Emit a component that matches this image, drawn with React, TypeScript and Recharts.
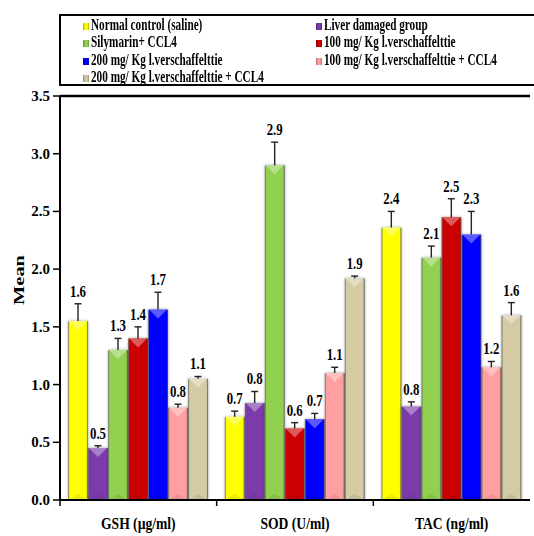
import { BarChart, Bar, XAxis, YAxis, ReferenceLine } from 'recharts';

const categories = ['GSH (µg/ml)', 'SOD (U/ml)', 'TAC (ng/ml)'];

const seriesNames = [
  'Normal control (saline)',
  'Liver damaged group',
  'Silymarin+ CCL4',
  '100 mg/ Kg l.verschaffelttie',
  '200 mg/ Kg l.verschaffelttie',
  '100 mg/ Kg l.verschaffelttie + CCL4',
  '200 mg/ Kg l.verschaffelttie + CCL4',
];

const seriesColors = ['#FFFF00', '#7B3AAA', '#92D050', '#CC0000', '#0000FF', '#FF9F9F', '#D4CBA5'];

// means
const normalControl = [1.55, 0.72, 2.36];
const liverDamaged = [0.45, 0.84, 0.81];
const silymarin = [1.3, 2.9, 2.1];
const lv100 = [1.4, 0.62, 2.45];
const lv200 = [1.65, 0.7, 2.3];
const lv100Ccl4 = [0.8, 1.1, 1.15];
const lv200Ccl4 = [1.05, 1.92, 1.6];

// upper end of the error bars
const normalControlErr = [1.7, 0.77, 2.5];
const liverDamagedErr = [0.47, 0.94, 0.85];
const silymarinErr = [1.4, 3.1, 2.2];
const lv100Err = [1.5, 0.67, 2.61];
const lv200Err = [1.8, 0.75, 2.5];
const lv100Ccl4Err = [0.83, 1.15, 1.2];
const lv200Ccl4Err = [1.07, 1.94, 1.71];

// printed value labels
const normalControlLbl = ['1.6', '0.7', '2.4'];
const liverDamagedLbl = ['0.5', '0.8', '0.8'];
const silymarinLbl = ['1.3', '2.9', '2.1'];
const lv100Lbl = ['1.4', '0.6', '2.5'];
const lv200Lbl = ['1.7', '0.7', '2.3'];
const lv100Ccl4Lbl = ['0.8', '1.1', '1.2'];
const lv200Ccl4Lbl = ['1.1', '1.9', '1.6'];

const yTicks = [0, 0.5, 1, 1.5, 2, 2.5, 3, 3.5];

const values = [normalControl, liverDamaged, silymarin, lv100, lv200, lv100Ccl4, lv200Ccl4];
const errors = [normalControlErr, liverDamagedErr, silymarinErr, lv100Err, lv200Err, lv100Ccl4Err, lv200Ccl4Err];
const labels = [normalControlLbl, liverDamagedLbl, silymarinLbl, lv100Lbl, lv200Lbl, lv100Ccl4Lbl, lv200Ccl4Lbl];

const data = categories.map((name, i) => {
  const row: any = { name };
  values.forEach((arr, s) => {
    row['s' + s] = arr[i];
  });
  return row;
});

const FONT = "'Liberation Serif', 'Times New Roman', serif";

const BevelBar = (props: any) => {
  const { x, y, width, height, index, s } = props;
  if (!height || height <= 0) return null;
  const base = y + height;
  const perUnit = height / values[s][index];
  const errTop = base - errors[s][index] * perUnit;
  const cx = x + width / 2;
  const tri = Math.min(width * 0.45, height / 2);
  return (
    <g>
      <g filter="url(#barShadow)">
        <rect x={x} y={y} width={width} height={height} fill={`url(#grad${s})`} />
      </g>
      <polygon
        points={`${x + 1},${y} ${x + width - 1},${y} ${cx},${y + tri}`}
        fill="#fff"
        fillOpacity={0.35}
      />
      <polygon
        points={`${x + 1},${base} ${x + width - 1},${base} ${cx},${base - tri * 0.7}`}
        fill="#000"
        fillOpacity={0.08}
      />
      <line x1={cx} y1={y} x2={cx} y2={errTop} stroke="#222" strokeWidth={1.4} />
      <line x1={cx - 3.5} y1={errTop} x2={cx + 3.5} y2={errTop} stroke="#222" strokeWidth={1.4} />
      <text
        x={cx}
        y={errTop - 7}
        textAnchor="middle"
        fontFamily={FONT}
        fontWeight="bold"
        fontSize={17}
        textLength={16}
        lengthAdjust="spacingAndGlyphs"
        fill="#000"
      >
        {labels[s][index]}
      </text>
    </g>
  );
};

const YTick = (props: any) => {
  const { x, y, payload } = props;
  return (
    <text
      x={x}
      y={y + 5}
      textAnchor="end"
      fontFamily={FONT}
      fontWeight="bold"
      fontSize={15}
      fill="#000"
    >
      {Number(payload.value).toFixed(1)}
    </text>
  );
};

const XTick = (props: any) => {
  const { x, y, payload } = props;
  const left = x - (payload.offset || 0);
  return (
    <g>
      <line x1={left} y1={y - 8} x2={left} y2={y - 2} stroke="#000" strokeWidth={1.5} />
      <g transform={`translate(${x},${y + 21}) scale(0.85,1)`}>
        <text x={0} y={0} textAnchor="middle" fontFamily={FONT} fontWeight="bold" fontSize={16} fill="#000">
          {payload.value}
        </text>
      </g>
    </g>
  );
};

function LegendBox() {
  return (
    <div
      style={{
        position: 'absolute',
        left: 59,
        top: 14,
        width: 490,
        height: 72,
        border: '2px solid #000',
        boxSizing: 'border-box',
        display: 'grid',
        gridTemplateColumns: '233px 1fr',
        gridAutoRows: '17.4px',
        paddingLeft: 22,
        paddingTop: 0,
        fontFamily: FONT,
        fontWeight: 'bold',
        fontSize: 17,
        color: '#000',
      }}
    >
      {seriesNames.map((n, i) => (
        <div key={n} style={{ display: 'flex', alignItems: 'baseline', whiteSpace: 'nowrap', lineHeight: '17.4px' }}>
          <span
            style={{
              display: 'inline-block',
              width: 6,
              height: 7,
              background: `linear-gradient(90deg, rgba(0,0,0,0.3), ${seriesColors[i]} 40%, ${seriesColors[i]} 70%, rgba(0,0,0,0.3))`,
              backgroundColor: seriesColors[i],
              marginRight: 2,
              flex: 'none',
            }}
          />
          <span style={{ display: 'inline-block', transform: 'scaleX(0.66)', transformOrigin: 'left center' }}>{n}</span>
        </div>
      ))}
    </div>
  );
}

export default function App() {
  return (
    <div style={{ position: 'absolute', left: 0, top: 0, width: 534, height: 536, overflow: 'hidden', background: '#fff' }}>
      <LegendBox />
      <BarChart
        width={534}
        height={536}
        data={data}
        margin={{ top: 96, right: 4, left: 0, bottom: 0 }}
        barCategoryGap={8}
        barGap={0}
      >
        <defs>
          {seriesColors.map((c, i) => (
            <linearGradient key={c} id={`grad${i}`} x1="0" y1="0" x2="1" y2="0">
              <stop offset="0%" stopColor="#000" stopOpacity={0.25} />
              <stop offset="8%" stopColor={c} />
              <stop offset="50%" stopColor={c} />
              <stop offset="92%" stopColor={c} />
              <stop offset="100%" stopColor="#555" />
            </linearGradient>
          ))}
          <filter id="barShadow" x="-30%" y="-5%" width="160%" height="110%">
            <feDropShadow dx="0" dy="0" stdDeviation="1.6" floodColor="#000" floodOpacity="0.4" />
          </filter>
        </defs>
        <XAxis
          dataKey="name"
          height={36}
          axisLine={{ stroke: '#000', strokeWidth: 2 }}
          tickLine={false}
          tick={<XTick />}
          interval={0}
        />
        <YAxis
          width={60}
          domain={[0, 3.5]}
          ticks={yTicks}
          allowDataOverflow
          axisLine={{ stroke: '#000', strokeWidth: 2 }}
          tickLine={{ stroke: '#000', strokeWidth: 1.5 }}
          tickSize={7}
          tickMargin={3}
          tick={<YTick />}
          label={
            <text
              x={18}
              y={292}
              transform="rotate(-90, 18, 292)"
              textAnchor="middle"
              fontFamily={FONT}
              fontWeight="bold"
              fontSize={15}
              textLength={50}
              lengthAdjust="spacingAndGlyphs"
              fill="#000"
            >
              Mean
            </text>
          }
        />
        <ReferenceLine y={3.5} stroke="#000" strokeWidth={2.5} />
        {seriesNames.map((n, s) => (
          <Bar
            key={n}
            dataKey={'s' + s}
            name={n}
            fill={seriesColors[s]}
            isAnimationActive={false}
            shape={(p: any) => <BevelBar {...p} s={s} />}
          />
        ))}
      </BarChart>
    </div>
  );
}
